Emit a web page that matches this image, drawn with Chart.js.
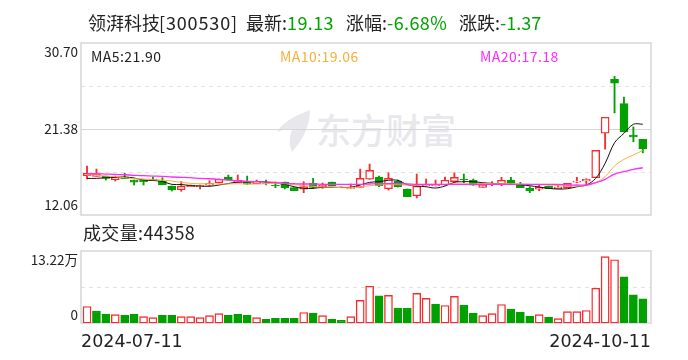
<!DOCTYPE html>
<html><head><meta charset="utf-8">
<script src="https://cdn.jsdelivr.net/npm/chart.js@4"></script>
<style>
html,body{margin:0;padding:0;background:#fff;width:688px;height:360px;overflow:hidden}
#w{position:relative;width:688px;height:360px;font-family:"Noto Sans CJK SC",sans-serif;color:#222}
#w span{position:absolute;white-space:nowrap;line-height:1}
.h{font-size:18px;top:13px}
.g{color:#00a300;letter-spacing:.4px}
.m{font-size:14px;top:49px;letter-spacing:.45px}
canvas{position:absolute;left:0}
#mark{left:316px;top:111px;font-size:35px;font-weight:500;color:#e8e8ec}
svg{position:absolute;left:274px;top:108px}
</style></head><body>
<div id="w">
<svg width="40" height="46" viewBox="0 0 40 46"><path d="M36 2C26 6 10 12 3 24c6-3 11-3 15-2-2 6-4 12 0 22 9-10 18-24 18-42z" fill="#e8e8ec"/></svg>
<span id="mark">东方财富</span>
<canvas id="c1" width="688" height="230" style="top:0"></canvas>
<canvas id="c2" width="688" height="130" style="top:230px"></canvas>
<span class="h" style="left:88px">领湃科技</span><span class="h" style="left:159px;letter-spacing:.85px">[300530]</span>
<span class="h" style="left:246px">最新:</span><span class="h g" style="left:287px">19.13</span>
<span class="h" style="left:346px">涨幅:</span><span class="h g" style="left:387px">-6.68%</span>
<span class="h" style="left:459px">涨跌:</span><span class="h g" style="left:500px;letter-spacing:0">-1.37</span>
<span class="m" style="left:91px">MA5:21.90</span>
<span class="m" style="left:280px;color:#f8b03a">MA10:19.06</span>
<span class="m" style="left:480px;color:#ff2bff">MA20:17.18</span>
<span class="h" style="left:83px;top:223px;letter-spacing:.35px">成交量:44358</span>
</div>
<script>
const opens=[16.32,16.25,16.28,15.88,16.18,15.85,15.85,15.96,15.71,15.20,14.80,15.13,15.13,15.28,15.56,16.18,15.60,15.63,15.45,15.53,15.31,15.63,15.02,14.85,15.49,15.09,15.63,15.09,14.95,15.06,15.93,16.18,14.91,15.74,14.88,14.15,15.23,15.20,15.31,15.67,15.93,15.83,15.06,15.39,15.42,15.85,15.39,14.99,14.85,15.20,14.91,15.02,15.63,15.74,16.10,20.92,26.76,24.14,20.71,20.25];
const highs=[17.37,17.04,16.28,16.28,16.58,15.85,15.85,16.18,16.10,15.20,15.67,15.31,15.31,15.77,15.96,16.39,16.39,16.28,15.85,15.85,15.63,15.63,15.02,15.67,16.03,15.53,15.63,15.09,15.42,17.04,17.58,16.28,16.64,15.85,14.88,16.50,15.96,15.85,16.18,16.64,16.50,15.96,15.53,15.67,16.14,16.14,15.60,15.13,15.31,15.20,15.31,15.49,16.14,16.00,19.06,22.65,27.08,24.83,21.61,20.25];
const lows=[15.96,16.25,15.85,15.74,15.99,15.31,15.31,15.89,15.34,14.66,14.63,15.13,14.88,15.20,15.53,15.85,15.60,15.39,15.45,15.31,15.02,14.88,14.69,14.48,14.95,14.95,15.20,15.02,14.95,15.06,15.93,15.13,14.77,15.09,14.05,13.91,15.20,15.20,15.31,15.63,15.56,15.28,15.06,15.23,15.23,15.42,15.02,14.48,14.69,14.91,14.91,15.02,15.56,15.31,16.10,19.20,23.12,21.07,19.99,18.80];
const closes=[16.58,16.50,16.03,16.14,15.99,15.63,15.67,15.89,15.34,14.77,15.17,15.31,15.26,15.49,15.93,15.85,15.82,15.39,15.67,15.47,15.23,15.02,14.69,15.13,15.06,15.31,15.20,15.02,15.06,16.03,16.90,15.23,16.03,15.13,14.05,15.17,15.34,15.31,15.82,16.14,15.85,15.28,15.31,15.49,15.82,15.49,15.02,14.69,15.06,14.91,15.09,15.49,15.74,15.93,19.06,22.65,26.36,21.07,20.52,19.23];
const ma5=[16.03,16.03,16.10,16.14,16.18,16.07,15.85,15.80,15.69,15.38,15.36,15.25,15.20,15.17,15.31,15.47,15.63,15.63,15.69,15.63,15.52,15.38,15.12,14.95,14.95,15.06,15.06,15.06,15.06,15.31,15.60,15.67,15.82,15.82,15.34,15.20,15.12,14.98,15.20,15.60,15.67,15.67,15.56,15.49,15.42,15.38,15.34,15.23,15.09,14.95,14.87,14.91,15.12,15.31,16.03,17.66,19.89,20.91,21.89,21.90];
const ma10=[16.39,16.39,16.28,16.21,16.10,15.99,15.96,15.88,15.85,15.74,15.60,15.49,15.45,15.45,15.42,15.42,15.45,15.42,15.42,15.45,15.49,15.45,15.34,15.23,15.17,15.09,15.09,15.02,15.02,15.12,15.23,15.31,15.38,15.34,15.31,15.28,15.38,15.38,15.38,15.42,15.42,15.42,15.49,15.45,15.45,15.45,15.42,15.38,15.34,15.31,15.23,15.20,15.20,15.23,15.56,16.21,17.37,18.09,18.56,19.06];
const ma20=[16.53,16.53,16.50,16.47,16.42,16.36,16.32,16.28,16.25,16.18,16.14,16.10,16.03,15.99,15.93,15.85,15.77,15.71,15.67,15.63,15.60,15.49,15.45,15.42,15.42,15.38,15.38,15.38,15.38,15.38,15.42,15.45,15.45,15.45,15.42,15.38,15.38,15.38,15.38,15.38,15.38,15.38,15.38,15.38,15.38,15.38,15.38,15.38,15.38,15.38,15.38,15.31,15.31,15.31,15.56,15.93,16.50,16.75,17.01,17.18];
const volumes=[30300,21800,16200,15400,14300,16200,11700,9900,14300,14300,11700,11700,9900,13600,17300,14300,16200,14300,9900,6900,8700,8700,8700,19200,18000,13600,6900,5000,11700,41500,67500,49700,50800,27300,27300,54500,45200,34800,32200,48900,32900,18000,13600,17300,34000,25500,19900,12500,15400,10600,8000,21000,21000,22900,63800,121800,116200,85000,51500,44358];
const volUp=[1,0,0,1,0,0,1,1,0,0,1,1,1,1,1,0,0,0,1,0,0,0,0,1,0,1,0,0,1,1,1,0,1,0,0,1,1,0,1,1,0,0,1,1,1,0,0,0,1,0,1,1,1,1,1,1,1,0,0,0];
const dateLabels=['2024-07-11','2024-10-11'];
const priceTickLabels=['12.06','21.38','30.70'];
const volTickLabels=['0','13.22万'];
const priceMin=12.06,priceMax=30.70,volMax=132200;

const RED='#f92a2c',GREEN='#00a000',FRAME='#d6d6da',DASH='#e2e2e2';
const FONT='"Noto Sans CJK SC",sans-serif';
const idx=opens.map((_,i)=>i);
const xMin=-0.64,xMax=59.87;

function framePlugin(solid,dashed){return{id:'frame',beforeDatasetsDraw(ch){
  const a=ch.chartArea,y=ch.scales.y,c=ch.ctx;
  c.save();c.lineWidth=1;
  c.strokeStyle=FRAME;
  solid.forEach(v=>{const p=Math.round(y.getPixelForValue(v))+.5;c.beginPath();c.moveTo(a.left,p);c.lineTo(a.right,p);c.stroke();});
  c.strokeStyle=DASH;c.setLineDash([4,4]);
  dashed.forEach(v=>{const p=Math.round(y.getPixelForValue(v))+.5;c.beginPath();c.moveTo(a.left,p);c.lineTo(a.right,p);c.stroke();});
  c.setLineDash([]);c.lineWidth=1.5;c.strokeStyle=FRAME;
  c.strokeRect(a.left,a.top,a.right-a.left,a.bottom-a.top);
  c.restore();
}}}
const baseX=(show)=>({type:'linear',min:xMin,max:xMax,offset:false,grid:{display:false,drawTicks:false},border:{display:false},
  afterBuildTicks(s){s.ticks=[{value:xMin},{value:xMax}];},
  afterFit(s){s.height=show?37:0;},
  ticks:{display:show,autoSkip:false,maxRotation:0,minRotation:0,align:'inner',padding:9,color:'#222',font:{family:'"DejaVu Sans",sans-serif',size:17.5},
    callback(v,i){return dateLabels[i];}}});
const baseY=(min,max,vals,labels)=>({type:'linear',min,max,grid:{display:false,drawTicks:false},border:{display:false},
  afterBuildTicks(s){s.ticks=vals.map(v=>({value:v}));},
  afterFit(s){s.width=81;},
  ticks:{autoSkip:false,padding:3,color:'#222',font:{family:FONT,size:13.5},callback(v,i){return labels[i];}}});
const common={responsive:false,animation:false,devicePixelRatio:1,plugins:{legend:{display:false},tooltip:{enabled:false},title:{display:false}}};

const lineDs=(data,color,order,w)=>({type:'line',data:idx.map(i=>({x:i,y:data[i]})),borderColor:color,borderWidth:w,pointRadius:0,tension:.35,order,fill:false});

new Chart(document.getElementById('c1'),{
  data:{datasets:[
    lineDs(ma20,'#ff2bff',0,1.3),lineDs(ma10,'#f8b03a',1,1),lineDs(ma5,'#111',2,1),
    {type:'bar',order:3,grouped:false,barThickness:8,borderSkipped:false,borderWidth:1.4,
     data:idx.map(i=>({x:i,y:[opens[i],closes[i]]})),
     backgroundColor:idx.map(i=>closes[i]>=opens[i]?'#fff':GREEN),
     borderColor:idx.map(i=>closes[i]>=opens[i]?RED:GREEN)},
    {type:'bar',order:4,grouped:false,barThickness:1.2,borderWidth:0,
     data:idx.map(i=>({x:i,y:[lows[i],highs[i]]})),
     backgroundColor:idx.map(i=>closes[i]>=opens[i]?RED:GREEN)}
  ]},
  options:{...common,layout:{padding:{top:43,right:37,bottom:15,left:0}},
    scales:{x:baseX(false),y:baseY(priceMin,priceMax,[13.2,21.38,29.73],priceTickLabels)}},
  plugins:[framePlugin([21.38],[26.04,16.72])]
});
new Chart(document.getElementById('c2'),{
  data:{datasets:[
    {type:'bar',grouped:false,barThickness:8,borderSkipped:false,borderWidth:1.4,
     data:idx.map(i=>({x:i,y:volumes[i]})),
     backgroundColor:idx.map(i=>volUp[i]?'#fff':GREEN),
     borderColor:idx.map(i=>volUp[i]?RED:GREEN)}
  ]},
  options:{...common,layout:{padding:{top:21,right:37,bottom:0,left:0}},
    scales:{x:baseX(true),y:baseY(0,volMax,[14700,115700],volTickLabels)}},
  plugins:[framePlugin([],[volMax/2])]
});
</script>
</body></html>
